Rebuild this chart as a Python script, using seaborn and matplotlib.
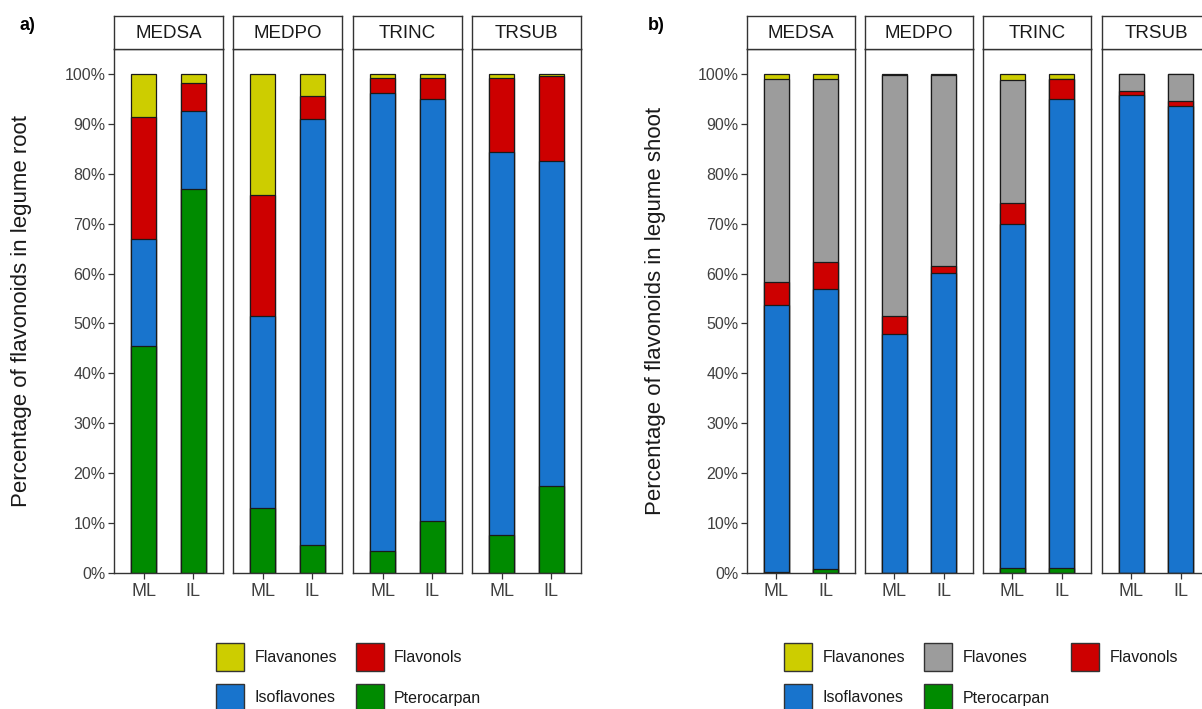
import matplotlib
matplotlib.use("Agg")
import matplotlib.pyplot as plt
import numpy as np
import pandas as pd
import seaborn as sns
from matplotlib.patches import Rectangle
from matplotlib.ticker import FuncFormatter

# ---- data -------------------------------------------------------------
species = ["MEDSA", "MEDPO", "TRINC", "TRSUB"]
lines = ["ML", "IL"]

# values per bar, ordered MEDSA-ML, MEDSA-IL, MEDPO-ML, MEDPO-IL, TRINC-ML, ...
root_flavanones = [8.7, 1.9, 24.3, 4.4, 0.9, 0.9, 0.9, 0.5]
root_flavonols = [24.3, 5.5, 24.3, 4.6, 3.0, 4.2, 14.7, 16.9]
root_isoflavones = [21.5, 15.6, 38.3, 85.3, 91.6, 84.4, 76.8, 65.2]
root_pterocarpan = [45.5, 77.0, 13.1, 5.7, 4.5, 10.5, 7.6, 17.4]

shoot_flavanones = [1.1, 1.1, 0.2, 0.2, 1.3, 1.1, 0.0, 0.0]
shoot_flavones = [40.6, 36.6, 48.3, 38.3, 24.6, 0.0, 3.4, 5.5]
shoot_flavonols = [4.5, 5.3, 3.6, 1.4, 4.2, 4.0, 0.9, 1.0]
shoot_isoflavones = [53.5, 56.1, 47.9, 60.1, 68.9, 93.9, 95.7, 93.5]
shoot_pterocarpan = [0.3, 0.9, 0.0, 0.0, 1.0, 1.0, 0.0, 0.0]

root_classes = ["Flavanones", "Flavonols", "Isoflavones", "Pterocarpan"]
shoot_classes = ["Flavanones", "Flavones", "Flavonols", "Isoflavones", "Pterocarpan"]

root_values = [root_flavanones, root_flavonols, root_isoflavones, root_pterocarpan]
shoot_values = [shoot_flavanones, shoot_flavones, shoot_flavonols,
                shoot_isoflavones, shoot_pterocarpan]

palette = {
    "Flavanones": "#CDCD00",
    "Flavones": "#9C9C9C",
    "Flavonols": "#CD0000",
    "Isoflavones": "#1874CD",
    "Pterocarpan": "#008B00",
}

# ---- style ------------------------------------------------------------
sns.set_theme(style="white")
plt.rcParams["font.family"] = ["Liberation Sans", "DejaVu Sans"]

W, H = 1202, 709
fig = plt.figure(figsize=(W / 100, H / 100), dpi=100)
EDGE = "#333333"
TICK_TXT = "#404040"


def px_rect(left, top, width, height):
    return [left / W, (H - top - height) / H, width / W, height / H]


def long_table(classes, values):
    rows = []
    for cls, vals in zip(classes, values):
        for i, v in enumerate(vals):
            rows.append({"species": species[i // 2], "line": lines[i % 2],
                         "cls": cls, "value": v})
    df = pd.DataFrame(rows)
    # stack bottom-up in reverse alphabetical order (first class on top)
    order = {c: k for k, c in enumerate(reversed(classes))}
    df["rank"] = df["cls"].map(order)
    df = df.sort_values(["species", "line", "rank"])
    df["top"] = df.groupby(["species", "line"])["value"].cumsum()
    return df


def draw_panel(classes, values, lefts, width, ylabel, label_x, tag, tag_x):
    df = long_table(classes, values)
    top, bottom = 49, 573
    for k, (sp, left) in enumerate(zip(species, lefts)):
        ax = fig.add_axes(px_rect(left, top, width, bottom - top))
        sub = df[df["species"] == sp]
        for cls in classes:  # tallest cumulative bar first, others on top
            sns.barplot(data=sub[sub["cls"] == cls], x="line", y="top",
                        order=lines, color=palette[cls], saturation=1,
                        width=0.5, edgecolor="#1a1a1a", linewidth=0.9,
                        errorbar=None, ax=ax)
        ax.set_xlim(-0.6, 1.6)
        ax.set_ylim(0, 105)
        ax.set_yticks(np.arange(0, 101, 10))
        ax.yaxis.set_major_formatter(FuncFormatter(lambda v, p: f"{v:.0f}%"))
        ax.set_xlabel("")
        ax.set_ylabel("")
        ax.tick_params(axis="x", length=4, width=0.9, color=EDGE, pad=3,
                       labelsize=13, labelcolor=TICK_TXT, bottom=True)
        if k == 0:
            ax.tick_params(axis="y", length=4, width=0.9, color=EDGE, pad=2,
                           labelsize=11.5, labelcolor=TICK_TXT, left=True)
        else:
            ax.tick_params(axis="y", left=False, labelleft=False)
        for s in ax.spines.values():
            s.set_visible(True)
            s.set_color(EDGE)
            s.set_linewidth(1.0)
        ax.grid(False)

        strip = fig.add_axes(px_rect(left, 16, width, 33))
        strip.set_xticks([])
        strip.set_yticks([])
        strip.set_facecolor("white")
        for s in strip.spines.values():
            s.set_visible(True)
            s.set_color(EDGE)
            s.set_linewidth(1.0)
        strip.text(0.5, 0.47, sp, ha="center", va="center", fontsize=13.5,
                   color="#1a1a1a", transform=strip.transAxes)

    fig.text(label_x / W, (H - (top + bottom) / 2) / H, ylabel,
             rotation=90, ha="center", va="center", fontsize=16,
             color="#1a1a1a")
    fig.text(tag_x / W, (H - 25) / H, tag, ha="left", va="center",
             fontsize=13, fontweight="bold", color="black")


draw_panel(root_classes, root_values, [114, 233, 353, 472], 109,
           "Percentage of flavonoids in legume root", 22, "a)", 19)
draw_panel(shoot_classes, shoot_values, [747, 865, 983, 1102], 108,
           "Percentage of flavonoids in legume shoot", 655, "b)", 648)

# ---- legends ----------------------------------------------------------
overlay = fig.add_axes([0, 0, 1, 1])
overlay.set_xlim(0, W)
overlay.set_ylim(H, 0)
overlay.set_axis_off()
overlay.patch.set_alpha(0)


def draw_legend(classes, key_xs, text_xs, ncol):
    for i, cls in enumerate(classes):
        r, c = divmod(i, ncol)
        ky = 643 + r * 41
        overlay.add_patch(Rectangle((key_xs[c], ky), 28, 28,
                                    facecolor=palette[cls], edgecolor=EDGE,
                                    linewidth=1.0))
        overlay.text(text_xs[c], ky + 14, cls, ha="left", va="center",
                     fontsize=11.5, color="#1a1a1a")


draw_legend(root_classes, [216, 356], [255, 394], 2)
draw_legend(shoot_classes, [784, 924, 1071], [823, 963, 1110], 3)

fig.savefig("out.png", dpi=100, facecolor="white")
